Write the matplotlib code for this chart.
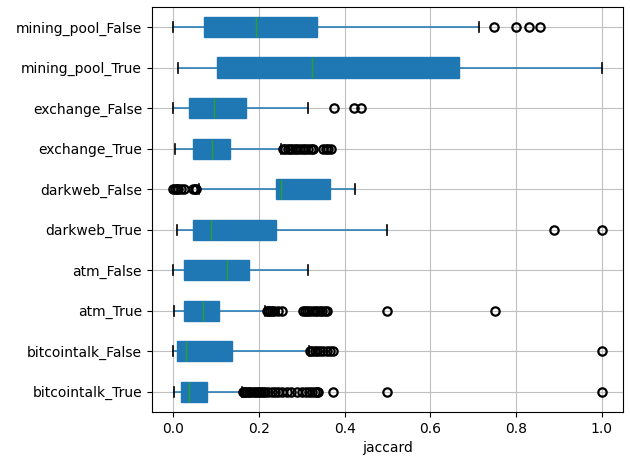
import matplotlib
matplotlib.use("Agg")
import matplotlib.pyplot as plt

# bottom to top, as drawn
labels = ["bitcointalk_True", "bitcointalk_False", "atm_True", "atm_False",
          "darkweb_True", "darkweb_False", "exchange_True", "exchange_False",
          "mining_pool_True", "mining_pool_False"]

whislo = [0.002, 0.0, 0.002, 0.0, 0.008, 0.060, 0.005, 0.0, 0.010, 0.0]
q1 = [0.017, 0.008, 0.026, 0.026, 0.047, 0.239, 0.047, 0.037, 0.103, 0.072]
med = [0.037, 0.030, 0.070, 0.125, 0.087, 0.251, 0.091, 0.095, 0.323, 0.192]
q3 = [0.079, 0.137, 0.107, 0.177, 0.239, 0.367, 0.132, 0.170, 0.668, 0.335]
whishi = [0.160, 0.318, 0.215, 0.314, 0.500, 0.424, 0.252, 0.314, 1.0, 0.714]

fliers = [
    [0.162, 0.165, 0.168, 0.172, 0.176, 0.180, 0.185, 0.190, 0.195, 0.200,
     0.205, 0.210, 0.215, 0.222, 0.230, 0.238, 0.245, 0.255, 0.265, 0.275,
     0.290, 0.300, 0.310, 0.318, 0.325, 0.330, 0.335, 0.339, 0.374, 0.5, 1.0],
    [0.320, 0.325, 0.330, 0.336, 0.342, 0.350, 0.360, 0.366, 0.372, 1.0],
    [0.218, 0.222, 0.226, 0.230, 0.236, 0.244, 0.253,
     0.304, 0.308, 0.312, 0.318, 0.324, 0.330, 0.336, 0.342, 0.348, 0.354,
     0.358, 0.5, 0.75],
    [],
    [0.889, 1.0],
    [0.0, 0.004, 0.008, 0.012, 0.018, 0.025, 0.045, 0.050, 0.053],
    [0.257, 0.262, 0.267, 0.272, 0.278, 0.284, 0.290, 0.296, 0.302, 0.308,
     0.315, 0.322, 0.327, 0.350, 0.356, 0.362, 0.368],
    [0.375, 0.422, 0.438],
    [],
    [0.749, 0.800, 0.831, 0.856],
]

stats = []
for i in range(len(labels)):
    stats.append({"label": labels[i], "whislo": whislo[i], "q1": q1[i],
                  "med": med[i], "q3": q3[i], "whishi": whishi[i],
                  "fliers": fliers[i]})

fig, ax = plt.subplots(figsize=(6.3, 4.57), dpi=100)
ax.bxp(stats, vert=False, patch_artist=True, widths=0.5,
       boxprops=dict(facecolor="C0", edgecolor="C0"),
       whiskerprops=dict(color="C0", linewidth=1.1),
       capprops=dict(color="k", linewidth=1.2),
       medianprops=dict(color="C2"),
       flierprops=dict(marker="o", markeredgecolor="k", markerfacecolor="none",
                       markersize=6, markeredgewidth=1.6))
ax.grid(True, color="#c0c0c0")
ax.set_axisbelow(True)
ax.set_xlabel("jaccard")
ax.set_xlim(-0.05, 1.05)

fig.subplots_adjust(left=0.241, right=0.989, top=0.985, bottom=0.0985)
fig.savefig("out.png", dpi=100)
